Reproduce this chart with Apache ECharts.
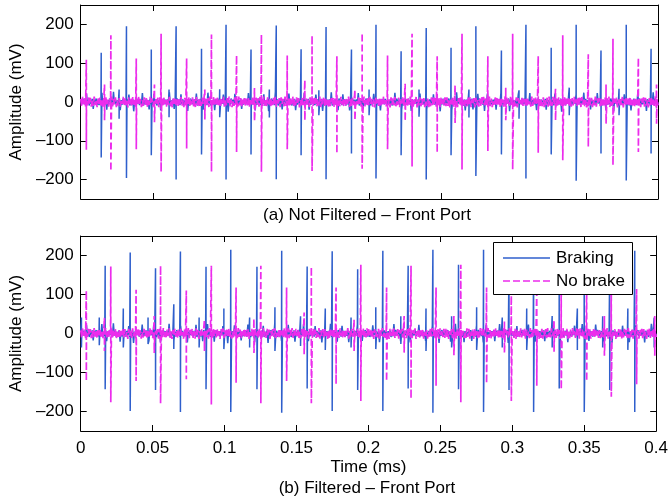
<!DOCTYPE html>
<html>
<head>
<meta charset="utf-8">
<script src="https://cdn.jsdelivr.net/npm/echarts@6/dist/echarts.min.js"></script>
<style>html,body{margin:0;padding:0;background:#fff}#c{width:671px;height:501px}</style>
</head>
<body>
<div id="c"></div>
<script>
// ---- DATA ----
const yTicks = [-200, -100, 0, 100, 200];
const seriesNames = ['Braking', 'No brake'];

// baseline noise (mV), sampled evenly over 0..0.4 ms
const noiseNoBrake = [
8,-11,13,-6,10,-13,5,-9,12,-4,11,-12,7,-10,14,-8,6,-13,9,-5,
12,-9,4,-14,11,-7,13,-10,6,-12,9,-3,14,-11,8,-6,12,-13,5,-9,
10,-12,7,-5,13,-10,11,-8,4,-14,12,-6,9,-11,13,-7,6,-12,10,-4,
14,-9,8,-13,5,-10,12,-7,11,-14,6,-8,13,-5,9,-12,10,-11,7,-6,
11,-13,12,-4,8,-10,14,-9,5,-12,10,-7,13,-11,6,-14,9,-5,12,-8,
7,-12,10,-6,13,-9,4,-13,11,-10,8,-5,14,-12,9,-7,12,-11,6,-13,
13,-8,9,-14,6,-10,11,-5,12,-12,7,-9,10,-13,14,-6,5,-11,13,-7,
9,-10,12,-8,6,-14,11,-4,13,-12,8,-9,10,-6,14,-11,7,-13,5,-10,
12,-7,4,-12,14,-9,10,-13,6,-5,13,-11,9,-8,11,-14,7,-6,12,-10,
6,-13,11,-7,9,-12,13,-4,8,-10,14,-9,5,-11,12,-6,10,-14,7,-8,
11,-9,13,-12,5,-7,10,-13,12,-5,8,-11,14,-10,6,-8,13,-12,9,-6,
14,-11,7,-9,12,-6,10,-14,5,-12,11,-8,13,-4,9,-10,6,-13,12,-7,
8,-12,13,-5,10,-11,6,-9,14,-13,7,-6,11,-10,12,-8,5,-14,9,-11,
10,-6,12,-13,9,-8,14,-10,4,-11,13,-7,8,-12,6,-9,11,-5,14,-13,
7,-10,11,-8,13,-14,5,-6,12,-9,10,-12,9,-4,14,-11,6,-10,13,-8,
13,-5,9,-12,7,-14,11,-8,6,-10,12,-13,8,-6,14,-9,5,-11,10,-12,
6,-14,12,-7,10,-9,13,-11,5,-8,11,-13,9,-4,12,-10,14,-7,8,-12,
11,-6,14,-10,7,-12,9,-5,13,-14,6,-9,12,-11,8,-7,10,-13,4,-10,
9,-13,5,-11,12,-8,14,-6,10,-12,7,-10,11,-14,13,-5,8,-9,12,-11,
12,-10,8,-14,6,-7,11,-12,13,-9,5,-13,10,-6,14,-11,9,-8,7,-12,
5,-11,13,-9,12,-13,7,-6,10,-14,11,-8,6,-12,9,-10,14,-5,13,-9,
10,-8,6,-12,14,-11,9,-13,5,-7,12,-10,13,-6,8,-14,11,-9,7,-12,
14,-12,11,-5,7,-10,13,-8,9,-13,6,-11,12,-14,10,-7,5,-9,13,-10,
8,-9,12,-13,10,-6,5,-12,14,-10,9,-8,11,-5,13,-12,7,-14,6,-11,
12,-13,7,-8,11,-12,14,-9,6,-10,13,-7,5,-13,10,-11,12,-6,9,-14,
6,-10,14,-11,9,-5,12,-13,8,-12,10,-9,14,-6,7,-11,13,-8,11,-13,
13,-7,10,-12,5,-14,8,-10,12,-9,11,-13,6,-8,14,-12,9,-5,10,-11,
9,-12,6,-9,13,-11,10,-7,14,-13,5,-10,12,-12,8,-6,11,-14,7,-9,
11,-8,13,-14,7,-10,12,-6,9,-11,14,-12,6,-9,10,-13,8,-7,13,-10,
7,-13,9,-6,12,-12,11,-9,5,-14,10,-8,13,-11,6,-10,14,-12,8,-9
];
const noiseBraking = [
5,-7,9,-3,6,-8,22,-6,4,-9,7,-5,8,-18,6,-4,9,-7,3,-8,
7,-5,24,-9,4,-6,8,-20,5,-7,9,-4,6,-8,26,-5,7,-9,4,-6,
8,-21,5,-7,9,-3,6,-8,7,-5,19,-9,4,-6,8,-24,5,-7,9,-4,
6,-8,7,-5,23,-9,4,-6,8,-7,5,-19,9,-4,6,-8,21,-5,7,-9,
4,-6,8,-22,5,-7,9,-4,6,-8,7,-5,25,-9,4,-6,8,-18,5,-7,
9,-4,6,-8,20,-5,7,-9,4,-6,8,-23,5,-7,9,-4,6,-8,7,-5,
22,-9,4,-6,8,-7,5,-20,9,-4,6,-8,24,-5,7,-9,4,-6,8,-21,
5,-7,9,-4,6,-8,7,-5,19,-9,4,-6,8,-25,5,-7,9,-4,6,-8,
21,-5,7,-9,4,-6,8,-18,5,-7,9,-4,6,-8,23,-5,7,-9,4,-6,
8,-22,5,-7,9,-4,6,-8,7,-5,20,-9,4,-6,8,-24,5,-7,9,-4,
6,-8,26,-5,7,-9,4,-6,8,-19,5,-7,9,-4,6,-8,22,-5,7,-9,
4,-6,8,-21,5,-7,9,-4,6,-8,7,-5,24,-9,4,-6,8,-20,5,-7,
9,-4,6,-8,19,-5,7,-9,4,-6,8,-23,5,-7,9,-4,6,-8,7,-5,
25,-9,4,-6,8,-7,5,-21,9,-4,6,-8,20,-5,7,-9,4,-6,8,-22,
5,-7,9,-4,6,-8,7,-5,23,-9,4,-6,8,-19,5,-7,9,-4,6,-8,
7,-9,5,-6,21,-4,8,-7,6,-9,4,-22,7,-5,9,-6,8,-4,5,-8,
6,-5,8,-9,4,-7,24,-6,9,-5,7,-8,5,-20,6,-9,8,-4,7,-6,
9,-6,5,-23,7,-8,4,-5,9,-7,6,-4,22,-8,5,-6,7,-9,4,-19,
4,-8,7,-6,9,-5,20,-7,6,-9,8,-5,4,-24,7,-6,9,-8,5,-4,
8,-4,9,-7,5,-21,6,-8,7,-4,25,-6,9,-5,8,-7,4,-9,6,-22,
6,-9,4,-5,8,-7,9,-19,5,-6,7,-8,21,-4,9,-5,6,-7,8,-23,
7,-6,22,-8,4,-9,5,-7,6,-5,9,-20,8,-4,7,-6,24,-9,5,-7,
5,-8,6,-4,9,-24,7,-5,8,-6,4,-9,6,-7,19,-8,5,-4,9,-6,
9,-5,7,-8,6,-4,23,-9,5,-7,8,-6,4,-21,9,-5,7,-8,6,-4,
4,-7,8,-20,9,-6,5,-8,7,-4,6,-9,22,-5,8,-7,4,-6,9,-25,
8,-6,5,-9,7,-5,9,-22,4,-8,6,-7,5,-4,20,-9,8,-6,7,-5,
6,-4,24,-7,8,-9,5,-6,9,-19,7,-5,4,-8,6,-7,23,-4,9,-6,
7,-9,6,-5,4,-21,8,-7,5,-6,9,-4,7,-24,8,-5,6,-9,4,-7,
5,-6,9,-8,20,-4,7,-5,6,-9,8,-22,4,-7,9,-6,5,-8,21,-4,
9,-7,4,-6,8,-5,6,-23,7,-4,5,-9,8,-6,25,-7,9,-5,4,-8
];

// (a) Not filtered - Braking spikes: time (ms), peak (mV), trough (mV)
const aBrakeT = [0.0142,0.0266,0.0317,0.0489,0.0612,0.0661,0.0837,0.0963,0.1007,0.118,0.1307,0.1355,0.1527,0.165,0.170,0.1876,0.1998,0.2046,0.222,0.2344,0.2394,0.2566,0.269,0.2738,0.2915,0.3037,0.3085,0.326,0.3385,0.3433,0.3605,0.373,0.378,0.3952];
const aBrakeUp = [127,32,195,135,32,195,137,33,199,135,32,197,136,30,193,135,32,199,131,32,191,140,32,195,133,30,199,140,37,199,133,34,199,137];
const aBrakeDn = [-143,-43,-196,-137,-39,-200,-135,-39,-200,-135,-40,-199,-137,-34,-199,-133,-34,-197,-137,-38,-200,-137,-40,-191,-135,-43,-197,-135,-34,-203,-133,-34,-202,-133];

// (a) Not filtered - No brake spikes
const aFreeT = [0.0039,0.0165,0.0209,0.0385,0.0511,0.0557,0.0734,0.086,0.0906,0.108,0.1204,0.1252,0.1431,0.1553,0.1603,0.1775,0.190,0.195,0.2126,0.2248,0.2296,0.247,0.2594,0.2642,0.2821,0.2945,0.2993,0.317,0.329,0.334,0.3517,0.364,0.3688,0.3864,0.399];
const aFreeUp = [109,45,172,112,45,176,112,32,174,120,36,174,120,56,172,118,32,178,120,47,176,118,43,176,118,37,176,118,34,172,123,45,163,114,45];
const aFreeDn = [-123,-47,-178,-122,-52,-180,-120,-45,-180,-129,-49,-180,-122,-47,-178,-133,-47,-172,-122,-49,-166,-131,-54,-174,-126,-47,-174,-131,-47,-150,-116,-56,-163,-129,-56];

// (b) Filtered - Braking spikes
const bBrakeT = [0.0005,0.0129,0.017,0.0296,0.0344,0.0468,0.052,0.0647,0.0693,0.0823,0.0871,0.0995,0.1043,0.1174,0.1225,0.135,0.1397,0.1528,0.1574,0.170,0.1748,0.1879,0.1925,0.2051,0.21,0.2225,0.2276,0.24,0.2448,0.2578,0.2626,0.2752,0.28,0.293,0.2977,0.31,0.3148,0.3277,0.3326,0.3452,0.35,0.3628,0.3677,0.3803,0.3851,0.3986];
const bBrakeUp = [41,41,174,64,208,41,167,75,210,41,171,64,215,41,171,67,212,44,172,64,211,41,165,67,212,44,174,64,215,44,176,67,215,41,174,64,212,45,174,64,212,44,174,64,212,41];
const bBrakeDn = [-36,-30,-143,-36,-199,-27,-145,-40,-201,-36,-143,-40,-201,-36,-143,-45,-203,-32,-141,-42,-199,-36,-145,-40,-199,-27,-141,-45,-203,-36,-143,-42,-201,-36,-145,-42,-201,-36,-141,-42,-201,-36,-145,-42,-201,-36];

// (b) Filtered - No brake spikes
const bFreeT = [0.0039,0.0165,0.0209,0.0385,0.0511,0.0555,0.0734,0.086,0.0908,0.108,0.1204,0.1252,0.1431,0.1553,0.1603,0.1775,0.190,0.1947,0.2126,0.2248,0.2296,0.247,0.2594,0.2642,0.2821,0.2945,0.2993,0.317,0.329,0.334,0.3517,0.364,0.3688,0.3864,0.399];
const bFreeUp = [110,40,172,112,45,174,110,35,174,118,38,174,118,54,171,118,35,176,118,45,174,118,45,176,118,33,174,118,35,174,118,45,161,114,45];
const bFreeDn = [-122,-45,-176,-122,-50,-179,-117,-45,-182,-126,-50,-179,-122,-53,-179,-130,-45,-173,-122,-49,-167,-134,-56,-176,-128,-49,-173,-134,-47,-143,-122,-57,-162,-130,-57];

// ---- BUILD ----
function build(noise, ts, ups, dns) {
  const pts = [];
  const n = noise.length;
  for (let i = 0; i < n; i++) pts.push({t: i * 0.4 / (n - 1), o: 0, v: noise[i]});
  for (let k = 0; k < ts.length; k++) {
    pts.push({t: ts[k], o: 1, v: ups[k]});
    pts.push({t: ts[k], o: 2, v: dns[k]});
  }
  pts.sort((a, b) => a.t - b.t || a.o - b.o);
  return pts.map(p => [p.t, p.v]);
}

const FONT = 'Liberation Sans, Arial, Helvetica, sans-serif';
const BLUE = '#2f5fcc';
const MAG = '#ec2cec';
const DASH = [7, 3];
const gridA = {left: 77, top: 5, width: 581, height: 194};
const gridB = {left: 77, top: 236, width: 581, height: 195};

function xAx(gi, pos, labels, name) {
  const o = {
    type: 'value', gridIndex: gi, position: pos, min: 0, max: 0.4, interval: 0.05,
    axisLine: {show: true, onZero: false, lineStyle: {color: '#000', width: 1}},
    axisTick: {show: true, inside: true, length: 6, lineStyle: {color: '#000'}},
    axisLabel: {show: labels, color: '#000', fontSize: 17, fontFamily: FONT, margin: 9,
      formatter: v => String(v)},
    splitLine: {show: false}
  };
  if (name) {
    o.name = name; o.nameLocation = 'middle'; o.nameGap = 28;
    o.nameTextStyle = {color: '#000', fontSize: 17, fontFamily: FONT};
  }
  return o;
}
function yAx(gi, pos, labels) {
  const o = {
    type: 'value', gridIndex: gi, position: pos, min: -250, max: 250,
    axisLine: {show: true, onZero: false, lineStyle: {color: '#000', width: 1}},
    axisTick: {show: true, inside: true, length: 6, customValues: yTicks, lineStyle: {color: '#000'}},
    axisLabel: {show: labels, customValues: yTicks, color: '#000', fontSize: 17, fontFamily: FONT, margin: 7,
      formatter: v => (v < 0 ? '\u2013' + Math.abs(v) : String(v))},
    splitLine: {show: false}
  };
  if (labels) {
    o.name = 'Amplitude (mV)'; o.nameLocation = 'middle'; o.nameGap = 50;
    o.nameTextStyle = {color: '#000', fontSize: 17, fontFamily: FONT};
  }
  return o;
}

const chart = echarts.init(document.getElementById('c'), null, {renderer: 'canvas'});
chart.setOption({
  animation: false,
  backgroundColor: '#fff',
  grid: [gridA, gridB],
  xAxis: [xAx(0, 'bottom', false), xAx(0, 'top', false), xAx(1, 'bottom', true, 'Time (ms)'), xAx(1, 'top', false)],
  yAxis: [yAx(0, 'left', true), yAx(0, 'right', false), yAx(1, 'left', true), yAx(1, 'right', false)],
  graphic: [
    {type: 'text', z: 50, style: {text: '(a) Not Filtered \u2013 Front Port', x: 367, y: 215, align: 'center', verticalAlign: 'middle', fill: '#000', font: '17px ' + FONT}},
    {type: 'text', z: 50, style: {text: '(b) Filtered \u2013 Front Port', x: 367, y: 488, align: 'center', verticalAlign: 'middle', fill: '#000', font: '17px ' + FONT}},
    // legend box
    {type: 'group', z: 100, children: [
      {type: 'rect', z: 100, shape: {x: 493.5, y: 242.5, width: 139, height: 52}, style: {fill: '#fff', stroke: '#000', lineWidth: 1}},
      {type: 'line', z: 101, shape: {x1: 503, y1: 258, x2: 550, y2: 258}, style: {stroke: BLUE, lineWidth: 1.3}},
      {type: 'line', z: 101, shape: {x1: 503, y1: 281, x2: 550, y2: 281}, style: {stroke: MAG, lineWidth: 1.3, lineDash: DASH}},
      {type: 'text', z: 101, style: {text: seriesNames[0], x: 556, y: 258, verticalAlign: 'middle', fill: '#000', font: '17px ' + FONT}},
      {type: 'text', z: 101, style: {text: seriesNames[1], x: 556, y: 281, verticalAlign: 'middle', fill: '#000', font: '17px ' + FONT}}
    ]}
  ],
  series: [
    {name: seriesNames[0], type: 'line', xAxisIndex: 0, yAxisIndex: 0, data: build(noiseBraking, aBrakeT, aBrakeUp, aBrakeDn),
     showSymbol: false, symbol: 'none', lineStyle: {color: BLUE, width: 1.5}, itemStyle: {color: BLUE}},
    {name: seriesNames[1], type: 'line', xAxisIndex: 0, yAxisIndex: 0, data: build(noiseNoBrake, aFreeT, aFreeUp, aFreeDn),
     showSymbol: false, symbol: 'none', lineStyle: {color: MAG, width: 1.7, type: DASH}, itemStyle: {color: MAG}},
    {name: seriesNames[0], type: 'line', xAxisIndex: 2, yAxisIndex: 2, data: build(noiseBraking, bBrakeT, bBrakeUp, bBrakeDn),
     showSymbol: false, symbol: 'none', lineStyle: {color: BLUE, width: 1.5}, itemStyle: {color: BLUE}},
    {name: seriesNames[1], type: 'line', xAxisIndex: 2, yAxisIndex: 2, data: build(noiseNoBrake, bFreeT, bFreeUp, bFreeDn),
     showSymbol: false, symbol: 'none', lineStyle: {color: MAG, width: 1.7, type: DASH}, itemStyle: {color: MAG}}
  ]
});
</script>
</body>
</html>
